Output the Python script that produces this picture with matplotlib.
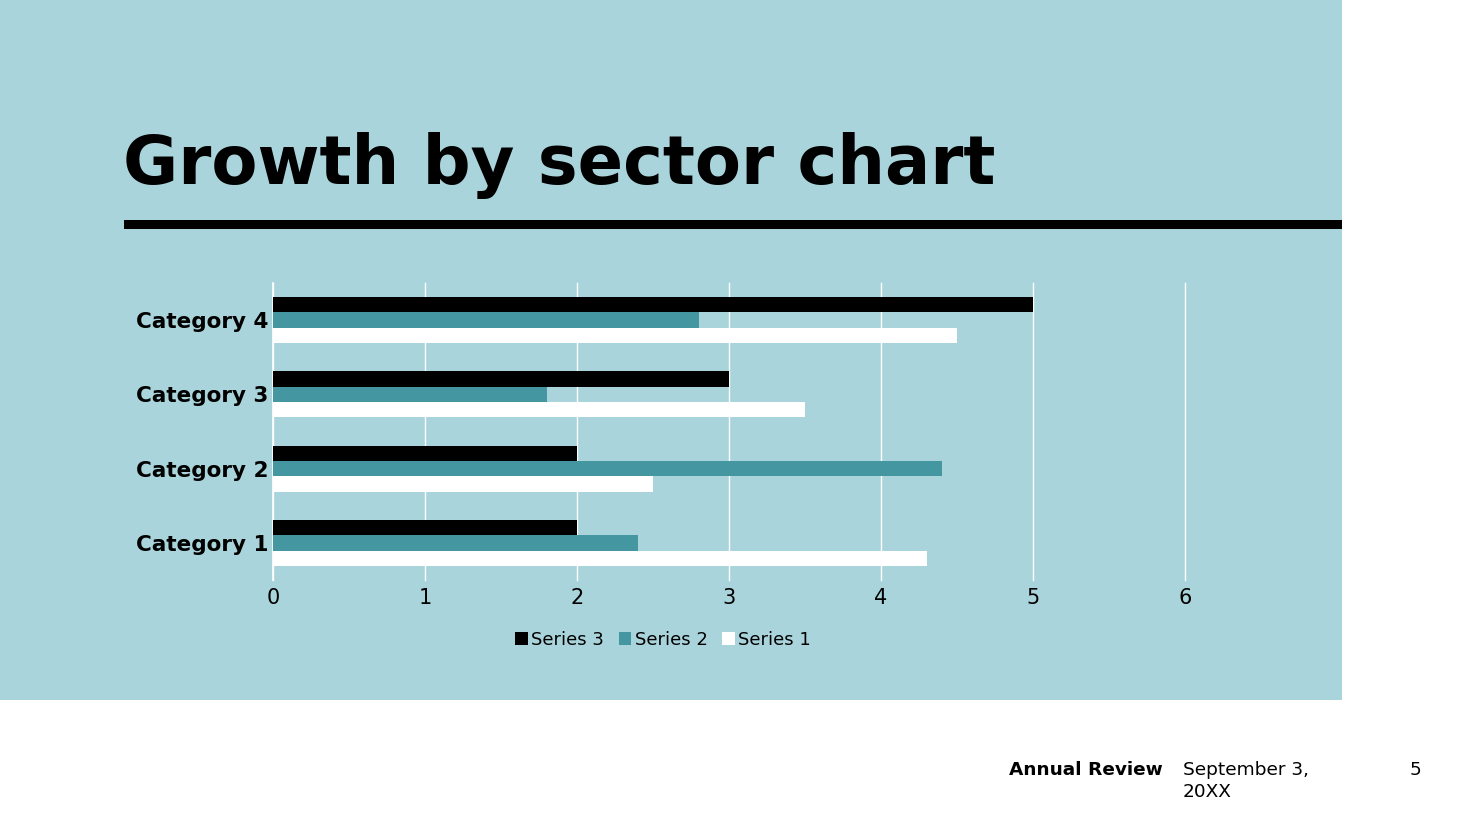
import matplotlib
matplotlib.use("Agg")
import matplotlib.pyplot as plt
import numpy as np
from matplotlib.patches import Rectangle

categories = ["Category 1", "Category 2", "Category 3", "Category 4"]
series1 = [4.3, 2.5, 3.5, 4.5]
series2 = [2.4, 4.4, 1.8, 2.8]
series3 = [2.0, 2.0, 3.0, 5.0]
xticks = [0, 1, 2, 3, 4, 5, 6]

BG = "#A9D4DB"
TEAL = "#4496A1"

W, H = 1467, 825
fig = plt.figure(figsize=(W / 100, H / 100), dpi=100)
fig.patch.set_facecolor("white")

# background panel
fig.add_artist(Rectangle((0, 1 - 700 / H), 1342 / W, 700 / H, transform=fig.transFigure,
                         facecolor=BG, edgecolor="none", zorder=0))
# title rule
fig.add_artist(Rectangle((124 / W, 1 - 229 / H), (1342 - 124) / W, 9 / H, transform=fig.transFigure,
                         facecolor="black", edgecolor="none", zorder=1))

fig.text(123 / W, 1 - 184 / H, "Growth by sector chart", fontsize=48.3, fontweight="bold",
         ha="left", va="baseline", color="black")

# axes
left, right, top, bottom = 273, 1185, 283, 580
ax = fig.add_axes([left / W, 1 - bottom / H, (right - left) / W, (bottom - top) / H])
ax.set_facecolor("none")
y = np.arange(len(categories))
h = 0.206
ax.barh(y + h, series3, height=h, color="black", label="Series 3", zorder=3)
ax.barh(y, series2, height=h, color=TEAL, label="Series 2", zorder=3)
ax.barh(y - h, series1, height=h, color="white", label="Series 1", zorder=3)
ax.set_xlim(0, 6)
ax.set_ylim(-0.5, len(categories) - 0.5)
ax.set_xticks(xticks)
ax.set_xticklabels([str(t) for t in xticks], fontsize=15)
ax.set_yticks(y)
ax.set_yticklabels(categories, fontsize=15.5, fontweight="bold")
ax.tick_params(length=0, pad=3)
ax.tick_params(axis="x", pad=6)
for s in ax.spines.values():
    s.set_visible(False)
ax.grid(axis="x", color="white", linewidth=1, zorder=1)
for gl in ax.get_xgridlines():
    gl.set_clip_on(False)
ax.set_axisbelow(True)
ax.axvline(0, color="white", linewidth=1.2, zorder=2, clip_on=False)

leg = fig.legend(loc="center", bbox_to_anchor=(663 / W, 1 - 640 / H), ncol=3, frameon=False,
                 fontsize=13, handlelength=0.7, handleheight=0.7, handletextpad=0.2,
                 columnspacing=0.8)

fig.text(1009 / W, 1 - 775 / H, "Annual Review", fontsize=13.3, fontweight="bold", ha="left", va="baseline")
fig.text(1183 / W, 1 - 775 / H, "September 3,", fontsize=13.3, ha="left", va="baseline")
fig.text(1183 / W, 1 - 797 / H, "20XX", fontsize=13.3, ha="left", va="baseline")
fig.text(1421 / W, 1 - 775 / H, "5", fontsize=13.3, ha="right", va="baseline")

fig.savefig("out.png", dpi=100, facecolor="white")
